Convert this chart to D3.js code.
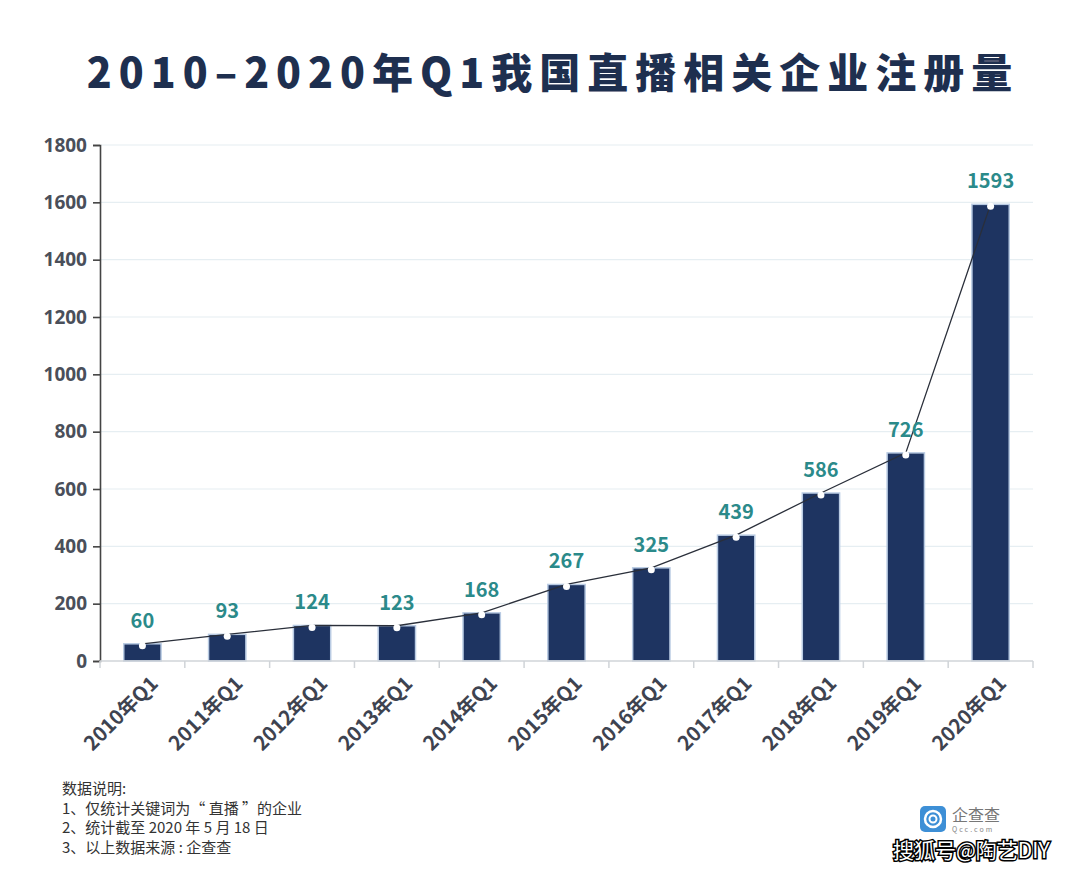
<!DOCTYPE html>
<html><head><meta charset="utf-8">
<script src="https://cdn.jsdelivr.net/npm/d3@7"></script>
<style>
body{margin:0;background:#fff;}
svg{display:block;font-family:"Noto Sans CJK SC","Noto Sans",sans-serif;}
</style></head><body>
<svg id="c" width="1080" height="869"></svg>
<script>
const categories = ["2010年Q1","2011年Q1","2012年Q1","2013年Q1","2014年Q1","2015年Q1","2016年Q1","2017年Q1","2018年Q1","2019年Q1","2020年Q1"];
const values = [60,93,124,123,168,267,325,439,586,726,1593];
const yTicks = [0,200,400,600,800,1000,1200,1400,1600,1800];
const titleText = "2010–2020年Q1我国直播相关企业注册量";
const notes = ["数据说明:","1、仅统计关键词为“ 直播 ”的企业","2、统计截至 2020 年 5 月 18 日","3、以上数据来源 : 企查查"];

const svg = d3.select("#c");
const m = {l:100, r:1033, t:145, b:661};
const x = d3.scaleBand().domain(categories).range([m.l, m.r]).paddingInner(0.56).paddingOuter(0.28);
const y = d3.scaleLinear().domain([0,1800]).range([m.b, m.t]);

// title
svg.append("text").attr("x",553).attr("y",88).attr("text-anchor","middle")
  .attr("font-size",41).attr("font-weight",900).attr("fill","#1e2f4f")
  .attr("letter-spacing","7px").text(titleText);

// grid
svg.append("g").selectAll("line").data(yTicks.slice(1)).join("line")
  .attr("x1",m.l+1).attr("x2",m.r).attr("y1",d=>y(d)).attr("y2",d=>y(d))
  .attr("stroke","#e6eef2").attr("stroke-width",1.2);

// bars
svg.append("g").selectAll("rect").data(values).join("rect")
  .attr("x",(d,i)=>x(categories[i])).attr("width",x.bandwidth())
  .attr("y",d=>y(d)).attr("height",d=>m.b-y(d))
  .attr("fill","#1e3461").attr("stroke","#b9cbe3").attr("stroke-width",1.5);

// line
const line = d3.line().x((d,i)=>x(categories[i])+x.bandwidth()/2).y(d=>y(d));
svg.append("path").datum(values).attr("d",line).attr("fill","none")
  .attr("stroke","#2a2f3a").attr("stroke-width",1.3);
svg.append("g").selectAll("circle").data(values).join("circle")
  .attr("cx",(d,i)=>x(categories[i])+x.bandwidth()/2).attr("cy",d=>y(d)+2)
  .attr("r",3.5).attr("fill","#fff");

// value labels
svg.append("g").selectAll("text").data(values).join("text")
  .attr("x",(d,i)=>x(categories[i])+x.bandwidth()/2).attr("y",d=>y(d)-16)
  .attr("text-anchor","middle").attr("font-size",20).attr("font-weight",700)
  .attr("fill","#2b8a8a").text(d=>d);

// y axis
const ya = svg.append("g").attr("transform",`translate(${m.l},0)`)
  .call(d3.axisLeft(y).tickValues(yTicks).tickFormat(d3.format("d")).tickSize(7).tickPadding(6));
ya.select(".domain").attr("stroke","#444").attr("stroke-width",1.6);
ya.selectAll(".tick line").attr("stroke","#444").attr("stroke-width",1.6);
ya.selectAll("text").attr("font-size",19).attr("font-weight",700).attr("fill","#4a4f5a")
  .attr("font-family","'Open Sans','Noto Sans',sans-serif");

// x axis baseline and ticks at band boundaries
const xa = svg.append("g");
xa.append("line").attr("x1",m.l).attr("x2",m.r).attr("y1",m.b).attr("y2",m.b)
  .attr("stroke","#d0d4d8").attr("stroke-width",1.5);
const bounds = d3.range(categories.length+1).map(i=>m.l + i*(m.r-m.l)/categories.length);
xa.selectAll("line.t").data(bounds).join("line").attr("class","t")
  .attr("x1",d=>d).attr("x2",d=>d).attr("y1",m.b).attr("y2",m.b+7)
  .attr("stroke","#d0d4d8").attr("stroke-width",1.5);
xa.selectAll("text").data(categories).join("text")
  .attr("transform",(d)=>`translate(${x(d)+x.bandwidth()/2+7},${m.b+14}) rotate(-45)`)
  .attr("text-anchor","end").attr("dy","0.7em").attr("font-size",20).attr("font-weight",700)
  .attr("fill","#3e4350").text(d=>d);

// notes
svg.append("g").selectAll("text").data(notes).join("text")
  .attr("x",62).attr("y",(d,i)=>794+i*19.5).attr("font-size",15).attr("fill","#333")
  .text(d=>d);

// logo
const lg = svg.append("g");
lg.append("rect").attr("x",920).attr("y",806).attr("width",26).attr("height",26).attr("rx",5).attr("fill","#3d8fd6");
lg.append("circle").attr("cx",933).attr("cy",819).attr("r",8).attr("fill","none").attr("stroke","#fff").attr("stroke-width",2.5);
lg.append("circle").attr("cx",933).attr("cy",819).attr("r",3.5).attr("fill","none").attr("stroke","#fff").attr("stroke-width",2);
lg.append("text").attr("x",952).attr("y",821).attr("font-size",16).attr("fill","#777").text("企查查");
lg.append("text").attr("x",952).attr("y",832).attr("font-size",7).attr("fill","#888").attr("letter-spacing","2px").text("Qcc.com");

// watermark
svg.append("text").attr("x",893).attr("y",858).attr("font-size",21).attr("fill","#fff")
  .attr("stroke","#000").attr("stroke-width",3).attr("paint-order","stroke")
  .attr("font-family","'Noto Sans CJK SC',sans-serif").text("搜狐号@陶艺DIY");
</script>
</body></html>
